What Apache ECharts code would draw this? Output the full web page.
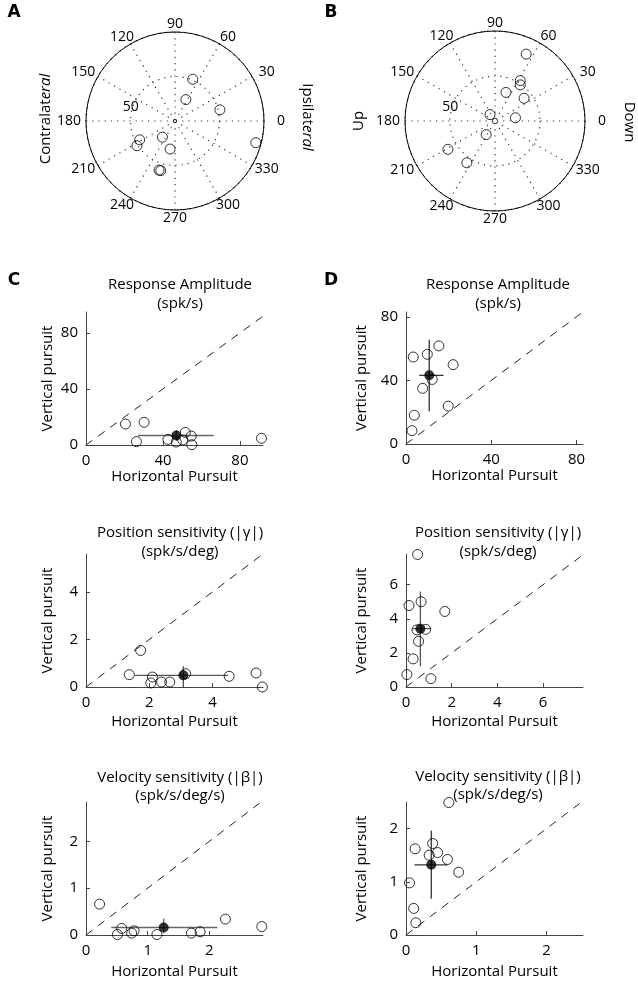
<!DOCTYPE html>
<html>
<head>
<meta charset="utf-8">
<script src="https://cdn.jsdelivr.net/npm/echarts@6/dist/echarts.min.js"></script>
<style>
html, body { margin: 0; padding: 0; background: #fff; }
#main { width: 638px; height: 981px; }
</style>
</head>
<body>
<div id="main"></div>
<script>
// polar plots: [radius, angle in degrees]
var polarA = [[51, 67], [27, 63], [52, 14], [94, 345], [45, 208], [51, 213], [23, 232], [32, 260], [58, 252], [58, 254]];
var polarB = [[82, 65], [53, 58], [49, 55], [34, 69], [41, 38], [23, 9], [9, 128], [18, 237], [61, 211], [56, 236]];
var angleTicks = [0, 30, 60, 90, 120, 150, 180, 210, 240, 270, 300, 330];

// C / D: horizontal vs vertical pursuit, one array per axis
var ampC_x = [20.5, 30.2, 26.2, 42.6, 46.9, 50.3, 51.6, 54.7, 55, 91.2];
var ampC_y = [15, 16.2, 2.4, 4, 2.1, 3.6, 9, 6.4, 0.2, 4.8];
var ampC_mean = [47, 6.8];
var ampC_xerr = [27, 66.4];
var ampC_yerr = [3, 10.7];

var ampD_x = [11.2, 3.4, 10, 15.4, 22.1, 12.3, 7.8, 19.8, 3.9, 2.8];
var ampD_y = [83.2, 54.7, 56.4, 61.7, 49.9, 40.6, 35, 23.8, 18.1, 8.4];
var ampD_mean = [10.9, 43.2];
var ampD_xerr = [6.2, 17.6];
var ampD_yerr = [20.6, 65.5];

var posC_x = [1.73, 1.37, 2.1, 2.05, 2.39, 2.65, 3.15, 4.53, 5.38, 5.58];
var posC_y = [1.54, 0.52, 0.42, 0.17, 0.21, 0.21, 0.56, 0.45, 0.59, 0.0];
var posC_mean = [3.08, 0.49];
var posC_xerr = [1.55, 4.5];
var posC_yerr = [0, 0.87];

var posD_x = [0.51, 0.66, 0.13, 1.70, 0.48, 0.86, 0.55, 0.31, 0.04, 1.09];
var posD_y = [7.77, 5.0, 4.78, 4.43, 3.35, 3.38, 2.68, 1.65, 0.73, 0.49];
var posD_mean = [0.63, 3.42];
var posD_xerr = [0.29, 1.09];
var posD_yerr = [1.22, 5.6];

var velC_x = [0.22, 0.58, 0.51, 0.74, 0.78, 1.15, 1.71, 1.85, 2.26, 2.85];
var velC_y = [0.66, 0.14, 0.01, 0.04, 0.09, 0.01, 0.04, 0.07, 0.34, 0.18];
var velC_mean = [1.26, 0.16];
var velC_xerr = [0.41, 2.13];
var velC_yerr = [0.04, 0.35];

var velD_x = [0.61, 0.38, 0.13, 0.33, 0.45, 0.59, 0.75, 0.05, 0.11, 0.14];
var velD_y = [2.49, 1.72, 1.62, 1.50, 1.55, 1.42, 1.18, 0.98, 0.50, 0.23];
var velD_mean = [0.36, 1.32];
var velD_xerr = [0.12, 0.59];
var velD_yerr = [0.68, 1.96];

var ampTicks = [0, 40, 80];
var posTicksC = [0, 2, 4];
var posTicksD = [0, 2, 4, 6];
var velTicks = [0, 1, 2];

var FONT = '"Open Sans", "Liberation Sans", sans-serif';

var panels = [
    {box: [86, 312, 177, 133], xs: ampC_x, ys: ampC_y, mean: ampC_mean, xerr: ampC_xerr, yerr: ampC_yerr, xMax: 92, yMax: 95, ticks: ampTicks, err: '#666', xGap: 21, yGap: 31},
    {box: [406, 312, 177, 132], xs: ampD_x, ys: ampD_y, mean: ampD_mean, xerr: ampD_xerr, yerr: ampD_yerr, xMax: 83, yMax: 83, ticks: ampTicks, err: '#333', xGap: 21, yGap: 37},
    {box: [86, 554, 177, 133], xs: posC_x, ys: posC_y, mean: posC_mean, xerr: posC_xerr, yerr: posC_yerr, xMax: 5.6, yMax: 5.6, ticks: posTicksC, err: '#555', xGap: 27, yGap: 31},
    {box: [406, 554, 177, 133], xs: posD_x, ys: posD_y, mean: posD_mean, xerr: posD_xerr, yerr: posD_yerr, xMax: 7.75, yMax: 7.8, ticks: posTicksD, err: '#555', xGap: 27, yGap: 37},
    {box: [86, 802, 177, 133], xs: velC_x, ys: velC_y, mean: velC_mean, xerr: velC_xerr, yerr: velC_yerr, xMax: 2.87, yMax: 2.84, ticks: velTicks, err: '#666', xGap: 29, yGap: 31},
    {box: [406, 802, 177, 133], xs: velD_x, ys: velD_y, mean: velD_mean, xerr: velD_xerr, yerr: velD_yerr, xMax: 2.52, yMax: 2.5, ticks: velTicks, err: '#333', xGap: 29, yGap: 37}
];

var grids = [], xAxes = [], yAxes = [], series = [];

function axisCommon(ticks) {
    return {
        type: 'value',
        min: 0,
        axisLine: {onZero: false, lineStyle: {color: '#444', width: 1}},
        axisTick: {inside: true, length: 4, customValues: ticks, lineStyle: {color: '#444'}},
        axisLabel: {customValues: ticks, margin: 8, fontSize: 15, color: '#000', fontFamily: FONT},
        splitLine: {show: false},
        nameLocation: 'middle',
        nameTextStyle: {fontSize: 15, color: '#000', fontFamily: FONT}
    };
}

panels.forEach(function (p, i) {
    grids.push({left: p.box[0], top: p.box[1], width: p.box[2], height: p.box[3], containLabel: false});
    var xa = axisCommon(p.ticks);
    xa.gridIndex = i;
    xa.max = p.xMax;
    xa.name = 'Horizontal Pursuit';
    xa.nameGap = p.xGap;
    xAxes.push(xa);
    var ya = axisCommon(p.ticks);
    ya.gridIndex = i;
    ya.max = p.yMax;
    ya.name = 'Vertical pursuit';
    ya.nameGap = p.yGap;
    ya.nameRotate = 90;
    yAxes.push(ya);

    var d = Math.min(p.xMax, p.yMax);
    series.push({
        type: 'line', xAxisIndex: i, yAxisIndex: i, symbol: 'none', silent: true, z: 1,
        lineStyle: {color: '#222', width: 1, type: [8, 7]},
        data: [[0, 0], [d, d]]
    });
    series.push({
        type: 'line', xAxisIndex: i, yAxisIndex: i, symbol: 'none', silent: true, z: 2,
        lineStyle: {color: p.err, width: 1.3},
        data: [[p.xerr[0], p.mean[1]], [p.xerr[1], p.mean[1]]]
    });
    series.push({
        type: 'line', xAxisIndex: i, yAxisIndex: i, symbol: 'none', silent: true, z: 2,
        lineStyle: {color: p.err, width: 1.3},
        data: [[p.mean[0], p.yerr[0]], [p.mean[0], p.yerr[1]]]
    });
    series.push({
        type: 'scatter', xAxisIndex: i, yAxisIndex: i, symbolSize: 10, z: 3,
        itemStyle: {color: 'rgba(0,0,0,0)', borderColor: '#000', borderWidth: 1},
        data: p.xs.map(function (x, k) { return [x, p.ys[k]]; })
    });
    series.push({
        type: 'scatter', xAxisIndex: i, yAxisIndex: i, symbolSize: 10, z: 4,
        itemStyle: {color: '#000'},
        data: [p.mean]
    });
});

function angleAxisOf(idx) {
    return {
        polarIndex: idx, type: 'value', min: 0, max: 360, interval: 30,
        startAngle: 0, clockwise: false,
        axisLine: {lineStyle: {color: '#000', width: 1}},
        axisTick: {show: false},
        axisLabel: {show: false},
        splitLine: {show: true, lineStyle: {color: '#333', width: 1.2, type: [1.2, 5]}}
    };
}
function radiusAxisOf(idx) {
    return {
        polarIndex: idx, type: 'value', min: 0, max: 100, interval: 50,
        axisLine: {show: false}, axisTick: {show: false}, axisLabel: {show: false},
        splitLine: {show: true, lineStyle: {color: '#333', width: 1.2, type: [1.2, 5]}}
    };
}

[polarA, polarB].forEach(function (pts, idx) {
    series.push({
        type: 'scatter', coordinateSystem: 'polar', polarIndex: idx, symbolSize: 10,
        itemStyle: {color: 'rgba(0,0,0,0)', borderColor: '#000', borderWidth: 1},
        data: pts
    });
});

function txt(x, y, text, size, extra) {
    var st = {text: text, x: 0, y: 0, fontSize: size, fontFamily: FONT, fill: '#000', align: 'center', verticalAlign: 'middle'};
    for (var k in extra) st[k] = extra[k];
    return {type: 'text', x: x, y: y, style: st, silent: true};
}

function sideLabel(x, y, a, b, rot) {
    var el = txt(x, y, '{n|' + a + '}' + (b ? '{i|' + b + '}' : ''), 15, {
        rich: {
            n: {fontSize: 15, fontFamily: FONT, fill: '#000'},
            i: {fontSize: 15, fontFamily: FONT, fill: '#000', fontStyle: 'italic'}
        }
    });
    el.rotation = rot;
    return el;
}

var LETTER = {fontWeight: 'bold', fontFamily: '"DejaVu Sans", sans-serif'};
var graphics = [
    txt(14, 13, 'A', 17, LETTER),
    txt(331, 13, 'B', 17, LETTER),
    txt(14, 281, 'C', 17, LETTER),
    txt(331, 281, 'D', 17, LETTER),
    sideLabel(46, 119, 'Contralat', 'eral', Math.PI / 2),
    sideLabel(307, 117, 'Ipsilat', 'eral', -Math.PI / 2),
    sideLabel(359, 121, 'Up', '', Math.PI / 2),
    sideLabel(629, 122, 'Down', '', -Math.PI / 2),
    txt(180, 294, 'Response Amplitude\n(spk/s)', 15, {lineHeight: 18.5}),
    txt(498, 294, 'Response Amplitude\n(spk/s)', 15, {lineHeight: 18.5}),
    txt(180, 542, 'Position sensitivity (|\u03b3|)\n(spk/s/deg)', 15, {lineHeight: 19}),
    txt(498, 542, 'Position sensitivity (|\u03b3|)\n(spk/s/deg)', 15, {lineHeight: 19}),
    txt(180, 787, 'Velocity sensitivity (|\u03b2|)\n(spk/s/deg/s)', 15, {lineHeight: 18}),
    txt(498, 786, 'Velocity sensitivity (|\u03b2|)\n(spk/s/deg/s)', 15, {lineHeight: 18})
];

var chart = echarts.init(document.getElementById('main'), null, {renderer: 'canvas'});
chart.setOption({
    animation: false,
    backgroundColor: '#fff',
    textStyle: {fontFamily: FONT},
    polar: [
        {center: [175, 121], radius: 89},
        {center: [495, 121], radius: 90}
    ],
    angleAxis: [angleAxisOf(0), angleAxisOf(1)],
    radiusAxis: [radiusAxisOf(0), radiusAxisOf(1)],
    grid: grids,
    xAxis: xAxes,
    yAxis: yAxes,
    series: series,
    graphic: graphics
});

// angle tick labels and the radial "50", placed through the polar scales
[0, 1].forEach(function (idx) {
    var c = chart.convertToPixel({polarIndex: idx}, [0, 0]);
    angleTicks.forEach(function (a) {
        var p = chart.convertToPixel({polarIndex: idx}, [100, a]);
        var x = c[0] + (p[0] - c[0]) * 1.19;
        var y = c[1] + (p[1] - c[1]) * 1.09;
        graphics.push(txt(x, y, String(a), 14));
    });
    var p50 = chart.convertToPixel({polarIndex: idx}, [52, 163]);
    graphics.push(txt(p50[0], p50[1], '50', 14));
});
chart.setOption({graphic: graphics});
</script>
</body>
</html>
